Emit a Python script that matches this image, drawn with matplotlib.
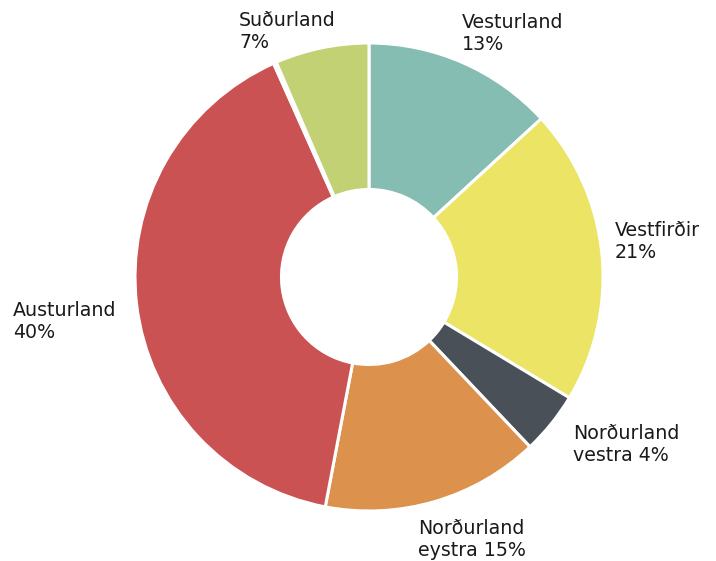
import matplotlib
matplotlib.use("Agg")
import matplotlib.pyplot as plt

regions = ["Vesturland", "Vestfirðir", "Norðurland vestra", "Norðurland eystra",
           "Austurland", "Höfuðborgarsvæði", "Suðurland"]
values = [13.2, 20.5, 4.3, 15.1, 40.4, 0.2, 6.5]
label_texts = ["Vesturland\n13%", "Vestfirðir\n21%", "Norðurland\nvestra 4%",
               "Norðurland\neystra 15%", "Austurland\n40%", "", "Suðurland\n7%"]
colors = ["#86bdb2", "#ebe465", "#495057", "#dc914d", "#cb5252", "#c2d173", "#c2d173"]

W, H = 716, 561
R = 234.0
cx, cy = 369, 277  # center in pixels from top-left

fig = plt.figure(figsize=(W / 100, H / 100), dpi=100)
ax = fig.add_axes([0, 0, 1, 1])

ax.pie(values, colors=colors, startangle=90, counterclock=False, radius=1.0,
       wedgeprops=dict(width=1.0 - 0.374, edgecolor="white", linewidth=2.2))

ax.set_xlim(-cx / R, (W - cx) / R)
ax.set_ylim(-(H - cy) / R, cy / R)
ax.set_aspect("equal")
ax.axis("off")

# label anchor positions (left, cap-top) in pixels
label_pos = [(462, 14), (615, 222), (573, 425), (418, 520), (13, 302), None, (239, 12)]

for txt, pos in zip(label_texts, label_pos):
    if not txt or pos is None:
        continue
    x = (pos[0] - cx) / R
    y = (cy - (pos[1] - 1)) / R
    ax.text(x, y, txt, ha="left", va="top", fontsize=13.7, color="#1a1a1a",
            family="DejaVu Sans", linespacing=1.2)

fig.savefig("out.png", dpi=100)
